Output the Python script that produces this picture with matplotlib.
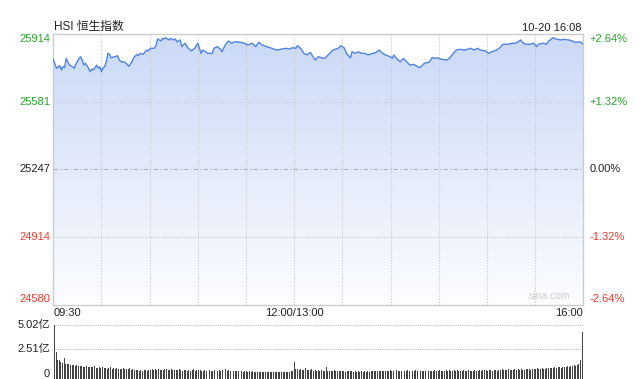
import numpy as np
import matplotlib
matplotlib.use("Agg")
import matplotlib.pyplot as plt
from matplotlib.colors import LinearSegmentedColormap

plt.rcParams["font.family"] = ["Liberation Sans", "Noto Sans CJK SC", "DejaVu Sans"]

# price samples: minutes after 09:30 (lunch break removed)
minutes = [0, 2, 4, 5, 6, 7, 8, 9, 10, 12, 13, 14, 16, 17, 18, 19, 20, 22, 23, 24,
           25, 27, 28, 29, 30, 31, 32, 33, 34, 35, 36, 38, 40, 41, 43, 44, 46, 47, 49, 50,
           52, 53, 54, 56, 58, 59, 60, 61, 63, 64, 65, 67, 68, 69, 70, 72, 73, 75, 76, 77,
           79, 80, 82, 84, 86, 88, 90, 92, 93, 95, 96, 99, 100, 102, 104, 105, 107, 109, 111, 113,
           116, 119, 121, 124, 126, 128, 130, 133, 136, 139, 142, 145, 147, 149, 151, 152, 154, 156, 158, 160,
           161, 163, 165, 167, 169, 172, 174, 176, 178, 179, 181, 183, 185, 186, 188, 190, 192, 194, 196, 199,
           201, 203, 205, 208, 210, 211, 212, 214, 216, 218, 220, 222, 224, 226, 228, 229, 231, 234, 236, 237,
           239, 241, 245, 247, 249, 251, 253, 256, 258, 260, 262, 264, 266, 269, 271, 273, 276, 278, 280, 283,
           286, 288, 291, 292, 294, 297, 299, 301, 302, 305, 307, 308, 311, 313, 316, 318, 321, 323, 325, 328,
           330]
prices = [25789, 25746, 25759, 25738, 25754, 25749, 25795, 25779, 25762, 25754, 25746, 25766, 25795, 25803, 25787, 25762, 25771, 25746, 25729, 25743,
          25738, 25762, 25746, 25754, 25729, 25749, 25754, 25779, 25820, 25815, 25798, 25803, 25808, 25787, 25776, 25779, 25766, 25756, 25779, 25798,
          25815, 25808, 25820, 25815, 25836, 25832, 25841, 25845, 25845, 25861, 25891, 25881, 25894, 25891, 25897, 25886, 25894, 25886, 25891, 25877,
          25886, 25853, 25870, 25845, 25832, 25845, 25870, 25820, 25836, 25828, 25820, 25820, 25845, 25853, 25841, 25828, 25861, 25881, 25870, 25877,
          25875, 25870, 25861, 25870, 25853, 25875, 25861, 25853, 25845, 25836, 25841, 25845, 25841, 25848, 25845, 25858, 25845, 25820, 25812, 25825,
          25812, 25787, 25803, 25798, 25795, 25820, 25836, 25841, 25848, 25858, 25848, 25815, 25798, 25828, 25820, 25828, 25820, 25820, 25812, 25820,
          25825, 25836, 25820, 25808, 25803, 25795, 25812, 25792, 25779, 25795, 25779, 25762, 25766, 25759, 25749, 25754, 25771, 25776, 25800, 25795,
          25798, 25792, 25787, 25798, 25820, 25836, 25840, 25836, 25840, 25845, 25836, 25845, 25836, 25832, 25820, 25828, 25836, 25848, 25865, 25865,
          25870, 25870, 25886, 25875, 25865, 25865, 25870, 25853, 25865, 25870, 25865, 25877, 25897, 25891, 25886, 25889, 25886, 25881, 25875, 25877,
          25865]

prev_close = 25247
price_ticks = [25914, 25581, 25247, 24914, 24580]
pct_labels = ["+2.64%", "+1.32%", "0.00%", "-1.32%", "-2.64%"]

# volume per minute, in 亿
volumes = [5.02, 2.27, 1.45, 1.38, 1.20, 1.15, 1.58, 1.05, 1.00, 0.98, 0.92, 0.90, 0.88, 0.85, 0.95,
           0.80, 0.82, 0.78, 0.75, 0.72, 0.85, 0.70, 0.68, 0.74, 0.66, 0.80, 0.62, 0.65, 0.70, 0.60,
           0.72, 0.58, 0.62, 0.55, 0.60, 0.66, 0.52, 0.57, 0.50, 0.63, 0.55, 0.48, 0.52, 0.58, 0.45,
           0.50, 0.47, 0.60, 0.42, 0.45, 0.38, 0.40, 0.35, 0.33, 0.36, 0.30, 0.42, 0.38, 0.32, 0.35,
           0.40, 0.45, 0.38, 0.50, 0.42, 0.48, 0.40, 0.44, 0.36, 0.47, 0.52, 0.40, 0.38, 0.45, 0.43,
           0.37, 0.41, 0.35, 0.46, 0.39, 0.33, 0.42, 0.36, 0.30, 0.38, 0.34, 0.40, 0.45, 0.32, 0.36,
           0.41, 0.35, 0.30, 0.33, 0.38, 0.29, 0.36, 0.40, 0.31, 0.34, 0.44, 0.32, 0.28, 0.35, 0.30,
           0.38, 0.33, 0.55, 0.30, 0.36, 0.28, 0.32, 0.26, 0.30, 0.27, 0.34, 0.25, 0.29, 0.24, 0.28,
           0.26, 0.23, 0.27, 0.22, 0.25, 0.21, 0.24, 0.20, 0.23, 0.19, 0.22, 0.24, 0.20, 0.18, 0.21,
           0.19, 0.22, 0.17, 0.20, 0.18, 0.21, 0.16, 0.19, 0.18, 0.20, 0.17, 0.22, 0.19, 0.25, 0.30,
           1.24, 0.50, 0.45, 0.40, 0.55, 0.38, 0.42, 0.60, 0.36, 0.40, 0.35, 0.48, 0.33, 0.38, 0.30,
           0.36, 0.32, 0.40, 0.29, 0.34, 0.70, 0.31, 0.28, 0.33, 0.30, 0.36, 0.27, 0.31, 0.25, 0.29,
           0.26, 0.30, 0.24, 0.28, 0.33, 0.25, 0.29, 0.22, 0.27, 0.24, 0.30, 0.23, 0.26, 0.21, 0.25,
           0.22, 0.28, 0.24, 0.30, 0.27, 0.25, 0.32, 0.28, 0.34, 0.30, 0.26, 0.33, 0.29, 0.31, 0.27,
           0.35, 0.30, 0.33, 0.28, 0.36, 0.31, 0.29, 0.34, 0.27, 0.32, 0.30, 0.37, 0.28, 0.33, 0.29,
           0.31, 0.35, 0.28, 0.32, 0.30, 0.27, 0.34, 0.29, 0.36, 0.31, 0.28, 0.33, 0.30, 0.35, 0.29,
           0.32, 0.38, 0.30, 0.34, 0.29, 0.36, 0.31, 0.40, 0.33, 0.30, 0.37, 0.32, 0.35, 0.29, 0.34,
           0.31, 0.38, 0.33, 0.30, 0.36, 0.28, 0.34, 0.31, 0.39, 0.33, 0.30, 0.36, 0.32, 0.42, 0.35,
           0.38, 0.33, 0.40, 0.36, 0.31, 0.44, 0.37, 0.34, 0.41, 0.38, 0.45, 0.36, 0.42, 0.39, 0.47,
           0.40, 0.44, 0.38, 0.48, 0.42, 0.46, 0.40, 0.50, 0.44, 0.41, 0.52, 0.45, 0.48, 0.43, 0.55,
           0.50, 0.47, 0.58, 0.52, 0.49, 0.62, 0.55, 0.51, 0.60, 0.56, 0.65, 0.58, 0.62, 0.68, 0.60,
           0.66, 0.72, 0.64, 0.75, 0.70, 0.68, 0.78, 0.74, 0.82, 0.76, 0.88, 0.80, 0.95, 1.05, 1.42,
           4.30]
vol_ticks = [5.02, 2.51, 0]
vol_labels = ["5.02亿", "2.51亿", "0"]

GREEN = "#2aa52a"
RED = "#f03a2e"
W, H = 640, 379


def fx(px):
    return px / W


def fy(py):
    return 1 - py / H


fig = plt.figure(figsize=(6.4, 3.79), dpi=100)

# main price panel
left, right, top, bottom = 53.3, 583.3, 34.3, 304.5
ax = fig.add_axes([fx(left), fy(bottom), fx(right - left), (bottom - top) / H])
ax.set_xlim(0, 330)
ax.set_ylim(price_ticks[-1], price_ticks[0])

cmap = LinearSegmentedColormap.from_list("fade", ["#fcfdff", "#cad9f7"])
grad = np.linspace(0, 1, 256).reshape(-1, 1)
im = ax.imshow(grad, extent=[0, 330, price_ticks[-1], price_ticks[0]],
               origin="lower", aspect="auto", cmap=cmap, zorder=1)
poly = ax.fill_between(minutes, prices, price_ticks[-1], color="none", lw=0)
im.set_clip_path(poly.get_paths()[0], transform=ax.transData)
ax.plot(minutes, prices, color="#4f84e6", lw=1.0, zorder=3)

for t in range(30, 330, 30):
    ax.axvline(t, color="#c8c8c8", lw=0.8, ls=(0, (1, 1.5)), zorder=2)
for p in [25581, 24914]:
    ax.axhline(p, color="#c8c8c8", lw=0.8, ls=(0, (1, 1.5)), zorder=2)
ax.axhline(prev_close, color="#b0b0b0", lw=0.8, ls=(0, (4, 2, 1, 2)), zorder=2)

ax.set_xticks([])
ax.set_yticks([])
for s in ax.spines.values():
    s.set_color("#cccccc")
    s.set_linewidth(1)

colors = [GREEN, GREEN, "#222222", RED, RED]
vas = ["top", "center", "center", "center", "bottom"]
for p, lab, c, va in zip(price_ticks, pct_labels, colors, vas):
    ax.text(-0.006, p, str(p), transform=ax.get_yaxis_transform(), ha="right",
            va=va, color=c, fontsize=8)
    ax.text(1.011, p, lab, transform=ax.get_yaxis_transform(), ha="left",
            va=va, color=c, fontsize=8)

ax.text(0.975, 0.012, "sina.com", transform=ax.transAxes, ha="right", va="bottom",
        color="#d0d0d0", fontsize=7.5)

fig.text(fx(54), fy(27), "HSI 恒生指数", ha="left", va="center", fontsize=8.5, color="#222222")
fig.text(fx(582), fy(28), "10-20 16:08", ha="right", va="center", fontsize=8, color="#222222")

fig.text(fx(54), fy(313), "09:30", ha="left", va="center", fontsize=8, color="#222222")
fig.text(fx(294), fy(313), "12:00/13:00", ha="center", va="center", fontsize=8, color="#222222")
fig.text(fx(583), fy(313), "16:00", ha="right", va="center", fontsize=8, color="#222222")

# volume panel
vtop, vzero = 324.7, 373.9
vmin = -(H - vzero) / (vzero - vtop) * vol_ticks[0]
vax = fig.add_axes([fx(left), 0, fx(right - left), (H - vtop) / H])
vax.set_xlim(-0.8, 330.8)
vax.set_ylim(vmin, vol_ticks[0])
t_vol = np.arange(len(volumes))
vax.bar(t_vol, np.array(volumes) - vmin, bottom=vmin, width=0.6, color="#444444", lw=0)
for v in vol_ticks[:2]:
    vax.axhline(v, color="#bdbdbd", lw=0.8, ls=(0, (1, 1)), zorder=0)
for v, lab in zip(vol_ticks, vol_labels):
    vax.text(-0.006, v, lab, transform=vax.get_yaxis_transform(), ha="right",
             va="center", fontsize=8, color="#222222")
vax.set_xticks([])
vax.set_yticks([])
for s in vax.spines.values():
    s.set_visible(False)

fig.savefig("out.png", dpi=100)
